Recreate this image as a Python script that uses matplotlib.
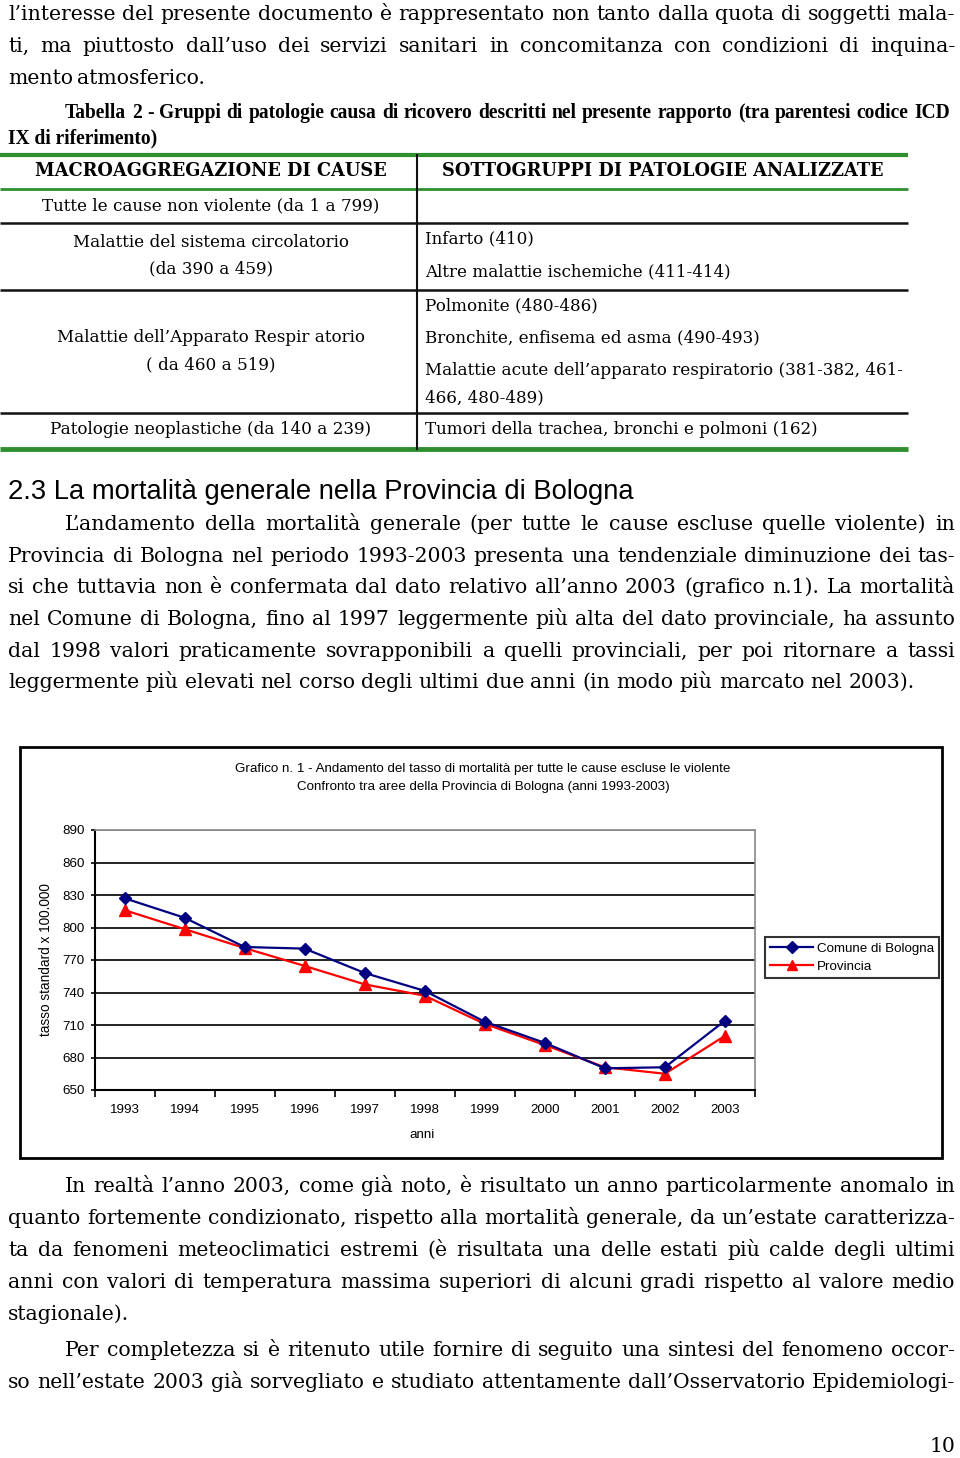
import matplotlib
matplotlib.use("Agg")
import matplotlib.pyplot as plt
from matplotlib.patches import Rectangle
from matplotlib.lines import Line2D

# ---------------- data ----------------
years = ["1993", "1994", "1995", "1996", "1997", "1998", "1999", "2000", "2001", "2002", "2003"]
comune = [827, 809, 782, 780.5, 758, 741.5, 713, 693.5, 670, 671, 714]
provincia = [816, 798.5, 781, 764.5, 747.5, 737, 711, 691.5, 671, 665, 700]
yticks = [650, 680, 710, 740, 770, 800, 830, 860, 890]
series_names = ["Comune di Bologna", "Provincia"]

chart_title = ["Grafico n. 1 - Andamento del tasso di mortalità per tutte le cause escluse le violente",
               "Confronto tra aree della Provincia di Bologna (anni 1993-2003)"]
y_label = "tasso standard x 100.000"
x_label = "anni"

para1 = ["l’interesse del presente documento è rappresentato non tanto dalla quota di soggetti mala-",
         "ti, ma piuttosto dall’uso dei servizi sanitari in concomitanza con condizioni di inquina-",
         "mento atmosferico."]
caption = ["Tabella 2 - Gruppi di patologie causa di ricovero descritti nel presente rapporto (tra parentesi codice ICD",
           "IX di riferimento)"]
table_header = ["MACROAGGREGAZIONE DI CAUSE", "SOTTOGRUPPI DI PATOLOGIE ANALIZZATE"]
table_left = [["Tutte le cause non violente (da 1 a 799)"],
              ["Malattie del sistema circolatorio", "(da 390 a 459)"],
              ["Malattie dell’Apparato Respir atorio", "( da 460 a 519)"],
              ["Patologie neoplastiche (da 140 a 239)"]]
table_right = [[],
               ["Infarto (410)", "Altre malattie ischemiche (411-414)"],
               ["Polmonite (480-486)", "Bronchite, enfisema ed asma (490-493)",
                "Malattie acute dell’apparato respiratorio (381-382, 461-", "466, 480-489)"],
               ["Tumori della trachea, bronchi e polmoni (162)"]]
heading = "2.3 La mortalità generale nella Provincia di Bologna"
para2 = ["L’andamento della mortalità generale (per tutte le cause escluse quelle violente) in",
         "Provincia di Bologna nel periodo 1993-2003 presenta una tendenziale diminuzione dei tas-",
         "si che tuttavia non è confermata dal dato relativo all’anno 2003 (grafico n.1). La mortalità",
         "nel Comune di Bologna, fino al 1997 leggermente più alta del dato provinciale, ha assunto",
         "dal 1998 valori praticamente sovrapponibili a quelli provinciali, per poi ritornare a tassi",
         "leggermente più elevati nel corso degli ultimi due anni (in modo più marcato nel 2003)."]
para3 = ["In realtà l’anno 2003, come già noto, è risultato un anno particolarmente anomalo in",
         "quanto fortemente condizionato, rispetto alla mortalità generale, da un’estate caratterizza-",
         "ta da fenomeni meteoclimatici estremi (è risultata una delle estati più calde degli ultimi",
         "anni con valori di temperatura massima superiori di alcuni gradi rispetto al valore medio",
         "stagionale)."]
para4 = ["Per completezza si è ritenuto utile fornire di seguito una sintesi del fenomeno occor-",
         "so nell’estate 2003 già sorvegliato e studiato attentamente dall’Osservatorio Epidemiologi-"]
page_number = "10"

# ---------------- page ----------------
W, H = 960, 1458
fig = plt.figure(figsize=(W / 100, H / 100), dpi=100)
page = fig.add_axes([0, 0, 1, 1])
page.set_xlim(0, W)
page.set_ylim(H, 0)
page.axis("off")
renderer = fig.canvas.get_renderer()

SERIF = "DejaVu Serif"
TIMES = "Liberation Serif"
SANS = "Liberation Sans"


def fit_size(s, width, family, weight="normal"):
    t = page.text(0, 0, s, fontsize=10, family=family, fontweight=weight)
    w = t.get_window_extent(renderer).width
    t.remove()
    return 10 * width / w


def justify(line, x0, x1, y, size, weight="normal", family=SERIF):
    words = line.split()
    if len(words) == 1:
        page.text(x0, y, line, fontsize=size, fontweight=weight, family=family,
                  ha="left", va="baseline")
        return
    texts = [page.text(0, y, w, fontsize=size, fontweight=weight, family=family,
                       ha="left", va="baseline") for w in words]
    widths = [t.get_window_extent(renderer).width for t in texts]
    gap = (x1 - x0 - sum(widths)) / (len(words) - 1)
    x = x0
    for t, w in zip(texts, widths):
        t.set_x(x)
        x += w + gap


BODY = min(fit_size(para2[1], 947, SERIF), fit_size(para2[2], 947, SERIF),
           fit_size(para3[1], 947, SERIF), fit_size(para4[1], 947, SERIF))
# paragraph 1
p1_right = [955, 955, 205]
for i, ln in enumerate(para1):
    justify(ln, 8, p1_right[i], 20 + i * 32, BODY)

# caption
CAP = fit_size(caption[0], 880, TIMES, "bold")
justify(caption[0], 65, 950, 118, CAP, weight="bold", family=TIMES)
page.text(8, 143, caption[1], fontsize=CAP, fontweight="bold", family=TIMES, va="baseline")

# table
green = "#2f8f2f"
page.plot([0, 908], [155, 155], color=green, lw=3.0, solid_capstyle="butt")
page.plot([0, 908], [189, 189], color=green, lw=2.0, solid_capstyle="butt")
for yy in (223, 290, 413):
    page.plot([0, 908], [yy, yy], color="#111111", lw=1.8, solid_capstyle="butt")
page.plot([0, 908], [449, 449], color=green, lw=3.5, solid_capstyle="butt")
page.plot([417, 417], [155, 449], color="#111111", lw=1.5)

TS = fit_size(table_left[0][0], 338, SERIF)
HS = fit_size(table_header[0], 352, SERIF, "bold")
page.text(211, 176, table_header[0], fontsize=HS, fontweight="bold", family=SERIF,
          ha="center", va="baseline")
page.text(663, 176, table_header[1], fontsize=HS, fontweight="bold", family=SERIF,
          ha="center", va="baseline")
left_base = [[210], [247, 273], [342, 369], [434]]
for lines, bases in zip(table_left, left_base):
    for ln, b in zip(lines, bases):
        page.text(211, b, ln, fontsize=TS, family=SERIF, ha="center", va="baseline")
right_base = [[], [243, 276], [310, 342, 375, 402], [434]]
for lines, bases in zip(table_right, right_base):
    for ln, b in zip(lines, bases):
        page.text(425, b, ln, fontsize=TS, family=SERIF, ha="left", va="baseline")

# heading
HD = fit_size(heading, 629, SANS)
page.text(8, 499, heading, fontsize=HD, family=SANS, ha="left", va="baseline")

# paragraph 2
p2_base = [530, 562, 593, 625, 657, 688]
for i, ln in enumerate(para2):
    x0 = 65 if i == 0 else 8
    x1 = 915 if i == len(para2) - 1 else 955
    justify(ln, x0, x1, p2_base[i], BODY)

# paragraph 3
p3_base = [1192, 1224, 1256, 1288, 1320]
for i, ln in enumerate(para3):
    x0 = 65 if i == 0 else 8
    justify(ln, x0, 955, p3_base[i], BODY)

# paragraph 4
p4_base = [1356, 1388]
for i, ln in enumerate(para4):
    x0 = 65 if i == 0 else 8
    justify(ln, x0, 955, p4_base[i], BODY)

page.text(955, 1452, page_number, fontsize=BODY, family=SERIF, ha="right", va="baseline")

# chart frame
page.add_patch(Rectangle((20, 747), 922, 411, fill=False, ec="black", lw=2.0))
CT = fit_size(chart_title[0], 496, SANS)
page.text(483, 772, chart_title[0], fontsize=CT, family=SANS, ha="center", va="baseline")
page.text(483, 790, chart_title[1], fontsize=CT, family=SANS, ha="center", va="baseline")
page.text(422, 1138, x_label, fontsize=9.6, family=SANS, ha="center", va="baseline")
yl = page.text(53, 1036, y_label, fontsize=9.8, family=SANS, rotation=90,
               ha="right", va="bottom")
clip = Rectangle((0, 882), 200, 200, transform=page.transData)
yl.set_clip_path(clip)

# ---------------- chart ----------------
L, R, T, B = 94.5, 755, 830, 1090
ax = fig.add_axes([L / W, 1 - B / H, (R - L) / W, (B - T) / H])
xs = list(range(len(years)))
ax.set_xlim(-0.5, len(years) - 0.5)
ax.set_ylim(650, 890)
ax.set_yticks(yticks)
ax.set_yticklabels([str(v) for v in yticks], fontsize=9.6, family=SANS)
for v in yticks[1:-1]:
    ax.axhline(v, color="#111111", lw=1.3, zorder=1)
ax.axhline(890, color="#888888", lw=1.3, zorder=1)
ax.set_xticks([x - 0.5 for x in range(len(years) + 1)])
ax.set_xticklabels([])
ax.set_xticks(xs, minor=True)
ax.set_xticklabels(years, minor=True, fontsize=9.6, family=SANS)
ax.tick_params(axis="x", which="minor", length=0, pad=10)
ax.tick_params(axis="x", which="major", length=5, width=1.2, direction="out")
ax.tick_params(axis="y", length=3, width=1.2, direction="out", pad=4)
for s in ("top", "right"):
    ax.spines[s].set_color("#888888")
    ax.spines[s].set_linewidth(1.2)
for s in ("left", "bottom"):
    ax.spines[s].set_linewidth(1.5)

ax.plot(xs, provincia, color="#ff0000", lw=1.6, marker="^", ms=8, mfc="#ff0000",
        mec="#ff0000", zorder=3, label=series_names[1])
ax.plot(xs, comune, color="#000080", lw=1.6, marker="D", ms=6.5, mfc="#000080",
        mec="#000080", zorder=4, label=series_names[0])

handles = [Line2D([], [], color="#000080", lw=1.6, marker="D", ms=6),
           Line2D([], [], color="#ff0000", lw=1.6, marker="^", ms=7.5)]
leg = fig.legend(handles, series_names, loc="upper left",
                 bbox_to_anchor=(765 / W, 1 - 937 / H), frameon=True, fancybox=False,
                 prop={"family": SANS, "size": 9.6}, handlelength=3.2, handletextpad=0.3,
                 borderpad=0.4, labelspacing=0.45, borderaxespad=0)
leg.get_frame().set_edgecolor("black")
leg.get_frame().set_linewidth(1.5)

fig.savefig("out.png", dpi=100)
